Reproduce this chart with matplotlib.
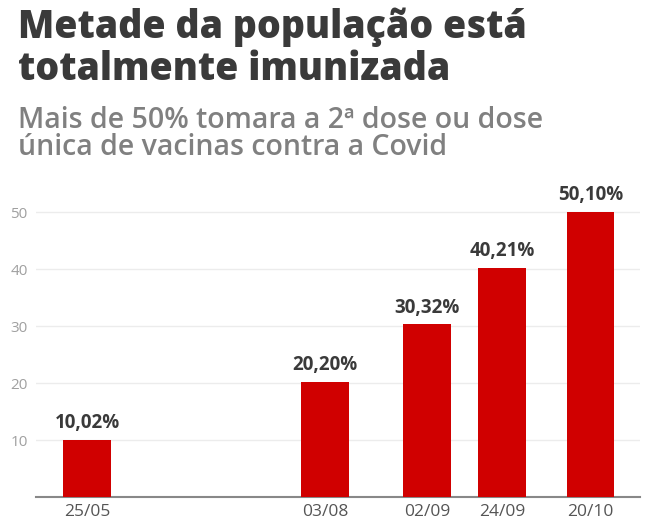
import datetime as dt
import matplotlib
matplotlib.use("Agg")
import matplotlib.pyplot as plt
import matplotlib.dates as mdates

# dados
datas = ["25/05", "03/08", "02/09", "24/09", "20/10"]
valores = [10.02, 20.20, 30.32, 40.21, 50.10]
rotulos = ["10,02%", "20,20%", "30,32%", "40,21%", "50,10%"]
yticks = [10, 20, 30, 40, 50]
titulo = ["Metade da população está", "totalmente imunizada"]
subtitulo = ["Mais de 50% tomara a 2ª dose ou dose", "única de vacinas contra a Covid"]

plt.rcParams["font.family"] = ["Open Sans", "DejaVu Sans"]

dias = [dt.datetime.strptime(d + "/2021", "%d/%m/%Y") for d in datas]
x = mdates.date2num(dias)

fig = plt.figure(figsize=(6.51, 5.29), dpi=100)
ax = fig.add_axes([36 / 651, 1 - 497 / 529, (640 - 36) / 651, (497 - 184) / 529])

ax.bar(x, valores, width=14, color="#d00000", zorder=3)
for xi, v, r in zip(x, valores, rotulos):
    ax.annotate(r, (xi, v), xytext=(0, 5), textcoords="offset points",
                ha="center", va="bottom", fontsize=13.5, fontweight="bold",
                color="#3a3a3a")

ax.set_xlim(x[0] - 15, x[0] + 162.6)
ax.set_ylim(0, 55)
ax.set_xticks(x)
ax.set_xticklabels(datas)
ax.set_yticks(yticks)
ax.tick_params(axis="x", length=0, pad=5, labelsize=12.5, labelcolor="#555555")
ax.tick_params(axis="y", length=0, pad=6, labelsize=11, labelcolor="#a0a0a0")
ax.grid(axis="y", color="#ececec", lw=1, zorder=0)
for s in ["top", "right", "left"]:
    ax.spines[s].set_visible(False)
ax.spines["bottom"].set_color("#888888")
ax.spines["bottom"].set_linewidth(1.5)

for linha, base in zip(titulo, [38, 80]):
    fig.text(18 / 651, 1 - base / 529, linha, fontsize=27, fontweight="heavy",
             color="#3a3a3a", va="baseline")
for linha, base in zip(subtitulo, [128, 155]):
    fig.text(18 / 651, 1 - base / 529, linha, fontsize=20.5, fontweight="semibold",
             color="#808080", va="baseline")

fig.savefig("out.png", dpi=100)
